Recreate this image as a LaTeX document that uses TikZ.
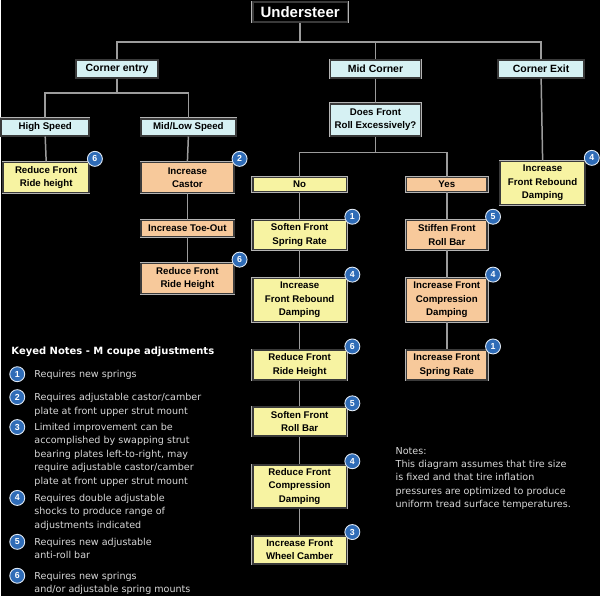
\documentclass[tikz,border=0pt]{standalone}
\usepackage{fontspec}
\setmainfont{Liberation Sans}
\newfontfamily\notefont{DejaVu Sans}
\definecolor{boxyellow}{HTML}{F7F3A2}
\definecolor{boxorange}{HTML}{F7C99B}
\definecolor{boxcyan}{HTML}{D6F1F3}
\definecolor{boxrim}{HTML}{B4B4B4}
\definecolor{boxline}{HTML}{3A3A3A}
\definecolor{linkgray}{HTML}{9C9C9C}
\definecolor{badgeblue}{HTML}{2F6CB7}
\definecolor{notegray}{HTML}{D8D8D8}
\begin{document}
\begin{tikzpicture}[x=1pt,y=-1pt,
  box/.style={preaction={draw=boxrim, line width=2.6pt}, draw=boxline, line width=1.6pt,
    inner sep=0pt, align=center,
    font=\fontsize{9.7}{13.5}\selectfont\bfseries, text=black},
  ybox/.style={box, fill=boxyellow},
  obox/.style={box, fill=boxorange},
  cbox/.style={box, fill=boxcyan},
  headbox/.style={cbox, font=\fontsize{10.5}{13.5}\selectfont\bfseries},
  link/.style={draw=linkgray, line width=1.5pt},
  badge/.style={circle, fill=badgeblue, draw=white!85!badgeblue, line width=0.9pt, inner sep=0pt,
    minimum size=15pt, text=white, font=\fontsize{8.8}{9}\selectfont\bfseries},
  note/.style={anchor=north west, inner sep=0pt, align=left, text=notegray,
    font=\notefont\fontsize{9.6}{13.4}\selectfont}
]
% page background
\fill[black] (0,0) rectangle (600,597);

% top of the tree
\node[preaction={draw=boxrim, line width=2.6pt}, fill=black, draw=boxline, line width=1.6pt,
  inner sep=0pt, text=white,
  font=\fontsize{15}{15}\selectfont\bfseries, minimum width=95, minimum height=20]
  (us) at (299.5,12) {Understeer};
\node[headbox, minimum width=82, minimum height=18] (ce) at (116,69) {Corner entry};
\node[headbox, minimum width=90, minimum height=18] (mc) at (375,69) {Mid Corner};
\node[headbox, minimum width=86, minimum height=18] (cx) at (541,69) {Corner Exit};

% corner entry branch
\node[cbox, minimum width=88, minimum height=17] (hs) at (44,127.5) {High Speed};
\node[cbox, minimum width=95, minimum height=17] (ml) at (187.5,127.5) {Mid/Low Speed};
\node[ybox, minimum width=86, minimum height=30] (rf1) at (45,178) {Reduce Front\\Ride height};
\node[obox, minimum width=93, minimum height=30] (ic) at (186.5,178) {Increase\\Castor};
\node[obox, minimum width=93, minimum height=16] (it) at (186.5,229) {Increase Toe-Out};
\node[obox, minimum width=93, minimum height=30] (rh2) at (186.5,279) {Reduce Front\\Ride Height};

% mid corner branch
\node[cbox, minimum width=90, minimum height=32] (df) at (375,120) {Does Front\\Roll Excessively?};
\node[ybox, minimum width=94, minimum height=14] (no) at (299,185) {No};
\node[obox, minimum width=81, minimum height=14] (yes) at (446.5,185) {Yes};
\node[ybox, minimum width=94, minimum height=29] (sfs) at (299,235.5) {Soften Front\\Spring Rate};
\node[ybox, minimum width=94, minimum height=43] (ird) at (299,300.5) {Increase\\Front Rebound\\Damping};
\node[ybox, minimum width=94, minimum height=30] (rrh) at (299,366) {Reduce Front\\Ride Height};
\node[ybox, minimum width=94, minimum height=29] (sfb) at (299,422.5) {Soften Front\\Roll Bar};
\node[ybox, minimum width=94, minimum height=43] (rcd) at (299,487.5) {Reduce Front\\Compression\\Damping};
\node[ybox, minimum width=94, minimum height=28] (iwc) at (299,551) {Increase Front\\Wheel Camber};
\node[obox, minimum width=81, minimum height=29] (sfr) at (446.5,235.5) {Stiffen Front\\Roll Bar};
\node[obox, minimum width=81, minimum height=43] (icd) at (446.5,300.5) {Increase Front\\Compression\\Damping};
\node[obox, minimum width=81, minimum height=30] (isr) at (446.5,366) {Increase Front\\Spring Rate};

% corner exit branch
\node[ybox, minimum width=85, minimum height=43] (rbx) at (542.5,183.5) {Increase\\Front Rebound\\Damping};

% connectors
\coordinate (bus) at (299.5,42);
\coordinate (ceb) at (116,93);
\coordinate (dfb) at (375,153);
\draw[link] (us.south) -- (bus);
\draw[link] (ce.north) -- (ce.north |- bus) -- (cx.north |- bus) -- (cx.north);
\draw[link] (mc.north) -- (mc.north |- bus);
\draw[link] (ce.south) -- (ceb);
\draw[link] (hs.north) -- (hs.north |- ceb) -- (ml.north |- ceb) -- (ml.north);
\draw[link] (hs.south) -- (rf1.north);
\draw[link] (ml.south) -- (ic.north);
\draw[link] (ic.south) -- (it.north);
\draw[link] (it.south) -- (rh2.north);
\draw[link] (mc.south) -- (df.north);
\draw[link] (df.south) -- (dfb);
\draw[link] (no.north) -- (no.north |- dfb) -- (yes.north |- dfb) -- (yes.north);
\draw[link] (no.south) -- (sfs.north);
\draw[link] (sfs.south) -- (ird.north);
\draw[link] (ird.south) -- (rrh.north);
\draw[link] (rrh.south) -- (sfb.north);
\draw[link] (sfb.south) -- (rcd.north);
\draw[link] (rcd.south) -- (iwc.north);
\draw[link] (yes.south) -- (sfr.north);
\draw[link] (sfr.south) -- (icd.north);
\draw[link] (icd.south) -- (isr.north);
\draw[link] (cx.south) -- (rbx.north);

% keyed-note badges on the boxes
\node[badge] (b-rf1) at ([shift={(5,-3)}]rf1.north east) {6};
\node[badge] (b-ic) at ([shift={(5,-3)}]ic.north east) {2};
\node[badge] (b-rh2) at ([shift={(5,-3)}]rh2.north east) {6};
\node[badge] (b-rbx) at ([shift={(6,-3)}]rbx.north east) {4};
\node[badge] (b-sfs) at ([shift={(5,-3)}]sfs.north east) {1};
\node[badge] (b-ird) at ([shift={(5,-3)}]ird.north east) {4};
\node[badge] (b-rrh) at ([shift={(5,-3)}]rrh.north east) {6};
\node[badge] (b-sfb) at ([shift={(5,-3)}]sfb.north east) {5};
\node[badge] (b-rcd) at ([shift={(5,-3)}]rcd.north east) {4};
\node[badge] (b-iwc) at ([shift={(5,-3)}]iwc.north east) {3};
\node[badge] (b-sfr) at ([shift={(5,-3)}]sfr.north east) {5};
\node[badge] (b-icd) at ([shift={(5,-3)}]icd.north east) {4};
\node[badge] (b-isr) at ([shift={(5,-3)}]isr.north east) {1};

% keyed notes legend
\node[anchor=west, inner sep=0pt, text=white, font=\notefont\fontsize{10}{13}\selectfont\bfseries]
  (kh) at (10,353) {Keyed Notes - M coupe adjustments};
\node[badge] (k1) at (16,375) {1};
\node[note] (n1) at (33,371) {Requires new springs};
\node[badge] (k2) at (16,398) {2};
\node[note] (n2) at (33,394) {Requires adjustable castor/camber\\plate at front upper strut mount};
\node[badge] (k3) at (16,428) {3};
\node[note] (n3) at (33,424) {Limited improvement can be\\accomplished by swapping strut\\bearing plates left-to-right, may\\require adjustable castor/camber\\plate at front upper strut mount};
\node[badge] (k4) at (16,499) {4};
\node[note] (n4) at (33,495) {Requires double adjustable\\shocks to produce range of\\adjustments indicated};
\node[badge] (k5) at (16,543) {5};
\node[note] (n5) at (33,539) {Requires new adjustable\\anti-roll bar};
\node[badge] (k6) at (16,577) {6};
\node[note] (n6) at (33,573) {Requires new springs\\and/or adjustable spring mounts};

% general note
\node[note] (gn) at (395,448) {Notes:\\This diagram assumes that tire size\\is fixed and that tire inflation\\pressures are optimized to produce\\uniform tread surface temperatures.};
\end{tikzpicture}
\end{document}
